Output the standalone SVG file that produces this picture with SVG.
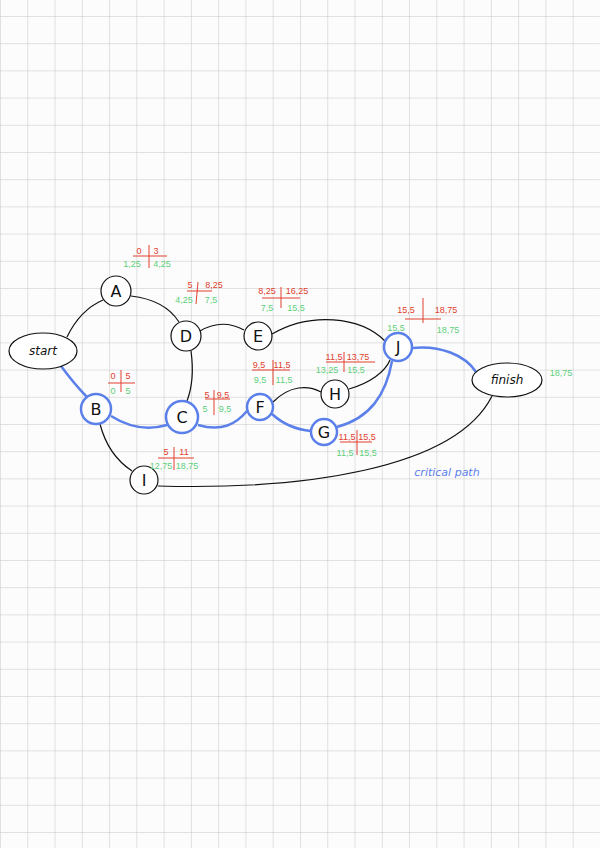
<svg xmlns="http://www.w3.org/2000/svg" width="600" height="848" viewBox="0 0 600 848">
<defs>
<pattern id="grid" x="0" y="16" width="27.27" height="27.2" patternUnits="userSpaceOnUse">
<path d="M0 0H27.27M0 0V27.2" fill="none" stroke="#c4c4c4" stroke-width="1"/>
</pattern>
<style>
.n{fill:#fff;stroke:#111;stroke-width:1.2}
.nb{fill:#fff;stroke:#5b80ea;stroke-width:2.5}
.e{fill:none;stroke:#111;stroke-width:1.2}
.eb{fill:none;stroke:#5b80ea;stroke-width:2.5}
.lt{font-family:"DejaVu Sans",sans-serif;font-size:16px;fill:#111;text-anchor:middle}
.lw{font-family:"DejaVu Sans",sans-serif;font-size:12px;font-style:italic;fill:#111;text-anchor:middle}
.r{font-family:"Liberation Sans",sans-serif;font-size:9px;fill:#e0402e;text-anchor:middle}
.g{font-family:"Liberation Sans",sans-serif;font-size:9px;fill:#5cd07a;text-anchor:middle}
.x{fill:none;stroke:#e0402e;stroke-width:1}
</style>
</defs>
<rect width="600" height="848" fill="#fcfcfc"/>
<rect width="600" height="848" fill="url(#grid)"/>
<g id="connectors">
<path class="e" d="M67 337 Q80 310 103 300"/>
<path class="e" d="M131 296 Q165 300 179 322"/>
<path class="e" d="M200 331 Q222 318 244 330"/>
<path class="e" d="M272 334 C310 312 360 316 385 341"/>
<path class="e" d="M191 351 Q195 380 187 401"/>
<path class="e" d="M273 402 C290 385 308 385 321 392"/>
<path class="e" d="M349 389 C370 383 385 372 390 360"/>
<path class="e" d="M100 424 Q108 455 132 471"/>
<path class="e" d="M158 486 C300 490 455 470 492 396"/>
<path class="eb" d="M61 366 Q75 385 87 397"/>
<path class="eb" d="M111 416 C130 428 150 430 167 425"/>
<path class="eb" d="M198 425 C222 432 236 424 247 411"/>
<path class="eb" d="M272 414 C285 426 300 430 311 431"/>
<path class="eb" d="M337 427 C370 418 386 395 392 361"/>
<path class="eb" d="M412 348 C440 345 465 355 476 372"/>
</g>
<g id="start"><ellipse class="n" cx="43" cy="351" rx="34" ry="18"/><text class="lw" x="43" y="355">start</text></g>
<g id="A"><circle class="n" cx="116" cy="291" r="15"/><text class="lt" x="116" y="297">A</text></g>
<g id="D"><circle class="n" cx="186" cy="336" r="15"/><text class="lt" x="186" y="342">D</text></g>
<g id="E"><circle class="n" cx="258" cy="336" r="14"/><text class="lt" x="258" y="342">E</text></g>
<g id="B"><circle class="nb" cx="96" cy="409" r="15"/><text class="lt" x="96" y="415">B</text></g>
<g id="C"><circle class="nb" cx="182" cy="417" r="16"/><text class="lt" x="182" y="423">C</text></g>
<g id="F"><circle class="nb" cx="260" cy="407" r="13"/><text class="lt" x="260" y="413">F</text></g>
<g id="H"><circle class="n" cx="335" cy="394" r="14"/><text class="lt" x="335" y="400">H</text></g>
<g id="G"><circle class="nb" cx="324" cy="432" r="13"/><text class="lt" x="324" y="438">G</text></g>
<g id="J"><circle class="nb" cx="398" cy="347" r="14"/><text class="lt" x="398" y="353">J</text></g>
<g id="I"><circle class="n" cx="144" cy="480" r="14"/><text class="lt" x="144" y="486">I</text></g>
<g id="finish"><ellipse class="n" cx="507" cy="380" rx="35" ry="17"/><text class="lw" x="507" y="384">finish</text></g>
<g id="labels">
<path class="x" d="M149 245V268M133 256H167"/>
<text class="r" x="139" y="254">0</text><text class="r" x="156" y="254">3</text>
<text class="g" x="132" y="267">1,25</text><text class="g" x="162" y="267">4,25</text>
<path class="x" d="M198 282 L196 304M187 291H212"/>
<text class="r" x="190" y="288">5</text><text class="r" x="214" y="288">8,25</text>
<text class="g" x="184" y="303">4,25</text><text class="g" x="211" y="303">7,5</text>
<path class="x" d="M281 287V308M262 298H300"/>
<text class="r" x="267" y="294">8,25</text><text class="r" x="297" y="294">16,25</text>
<text class="g" x="267" y="311">7,5</text><text class="g" x="296" y="311">15,5</text>
<path class="x" d="M423 298V323M405 319H441"/>
<text class="r" x="406" y="313">15,5</text><text class="r" x="446" y="313">18,75</text>
<text class="g" x="396" y="331">15,5</text><text class="g" x="448" y="333">18,75</text>
<path class="x" d="M273 360V385M252 370H290"/>
<text class="r" x="259" y="368">9,5</text><text class="r" x="282" y="368">11,5</text>
<text class="g" x="260" y="383">9,5</text><text class="g" x="284" y="383">11,5</text>
<path class="x" d="M344 352V372M326 362H375"/>
<text class="r" x="334" y="360">11,5</text><text class="r" x="358" y="360">13,75</text>
<text class="g" x="327" y="373">13,25</text><text class="g" x="356" y="373">15,5</text>
<path class="x" d="M121 370V392M108 383H135"/>
<text class="r" x="113" y="379">0</text><text class="r" x="128" y="379">5</text>
<text class="g" x="113" y="394">0</text><text class="g" x="128" y="394">5</text>
<path class="x" d="M214 390V415M205 399H230"/>
<text class="r" x="207" y="398">5</text><text class="r" x="223" y="398">9,5</text>
<text class="g" x="205" y="412">5</text><text class="g" x="225" y="412">9,5</text>
<path class="x" d="M357 430V455M340 442H372"/>
<text class="r" x="347" y="440">11,5</text><text class="r" x="367" y="440">15,5</text>
<text class="g" x="345" y="456">11,5</text><text class="g" x="368" y="456">15,5</text>
<path class="x" d="M174 447V470M158 458H194"/>
<text class="r" x="166" y="455">5</text><text class="r" x="184" y="455">11</text>
<text class="g" x="161" y="469">12,75</text><text class="g" x="187" y="469">18,75</text>
<text class="g" x="561" y="376">18,75</text>
<text x="447" y="476" font-family="DejaVu Sans,sans-serif" font-size="11" font-style="italic" fill="#5b80ea" text-anchor="middle">critical path</text>
</g>
</svg>
